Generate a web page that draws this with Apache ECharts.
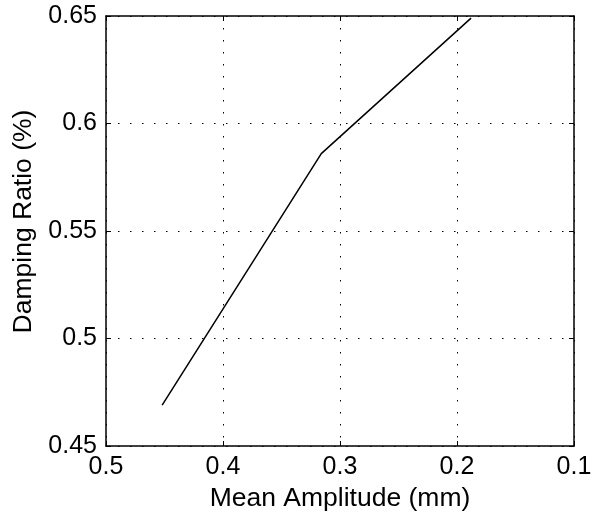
<!DOCTYPE html>
<html>
<head>
<meta charset="utf-8">
<script src="https://cdn.jsdelivr.net/npm/echarts@6/dist/echarts.min.js"></script>
<style>
html,body{margin:0;padding:0;background:#fff;}
#chart{width:603px;height:521px;}
</style>
</head>
<body>
<div id="chart"></div>
<script>
var amplitude = [0.452, 0.316, 0.188];
var damping = [0.469, 0.586, 0.649];
var xTitle = 'Mean Amplitude (mm)';
var yTitle = 'Damping Ratio (%)';

var font = '"Liberation Sans", Arial, Helvetica, sans-serif';
var fmt = function (v) { return String(parseFloat(v.toFixed(2))); };
var gridLine = { show: true, lineStyle: { color: '#000', width: 1, type: [1.5, 10.5] } };
var tickIn = { show: true, inside: true, length: 5, lineStyle: { color: '#000', width: 1 } };
var axLine = { show: true, onZero: false, lineStyle: { color: '#000', width: 1.5 } };

var chart = echarts.init(document.getElementById('chart'), null, { renderer: 'canvas' });
chart.setOption({
  animation: false,
  backgroundColor: '#fff',
  grid: { left: 106, right: 29, top: 16, bottom: 75, containLabel: false },
  xAxis: [{
    type: 'value', min: 0.1, max: 0.5, interval: 0.1, inverse: true,
    position: 'bottom',
    name: xTitle, nameLocation: 'middle', nameGap: 34,
    nameTextStyle: { color: '#000', fontSize: 26.5, fontFamily: font },
    axisLine: axLine, axisTick: tickIn,
    axisLabel: { color: '#000', fontSize: 25, fontFamily: font, margin: 9, formatter: fmt },
    splitLine: gridLine
  }, {
    type: 'value', min: 0.1, max: 0.5, interval: 0.1, inverse: true,
    position: 'top',
    axisLine: axLine, axisTick: tickIn, axisLabel: { show: false }, splitLine: { show: false }
  }],
  yAxis: [{
    type: 'value', min: 0.45, max: 0.65, interval: 0.05,
    position: 'left',
    name: yTitle, nameLocation: 'middle', nameGap: 59,
    nameTextStyle: { color: '#000', fontSize: 26.5, fontFamily: font, padding: [0, 0, 0, 19] },
    axisLine: axLine, axisTick: tickIn,
    axisLabel: { color: '#000', fontSize: 25, fontFamily: font, margin: 9, formatter: fmt },
    splitLine: gridLine
  }, {
    type: 'value', min: 0.45, max: 0.65, interval: 0.05,
    position: 'right',
    axisLine: axLine, axisTick: tickIn, axisLabel: { show: false }, splitLine: { show: false }
  }],
  series: [{
    type: 'line',
    data: amplitude.map(function (a, i) { return [a, damping[i]]; }),
    showSymbol: false, symbol: 'none',
    lineStyle: { color: '#000', width: 1.5 },
    clip: false
  }]
});
</script>
</body>
</html>
